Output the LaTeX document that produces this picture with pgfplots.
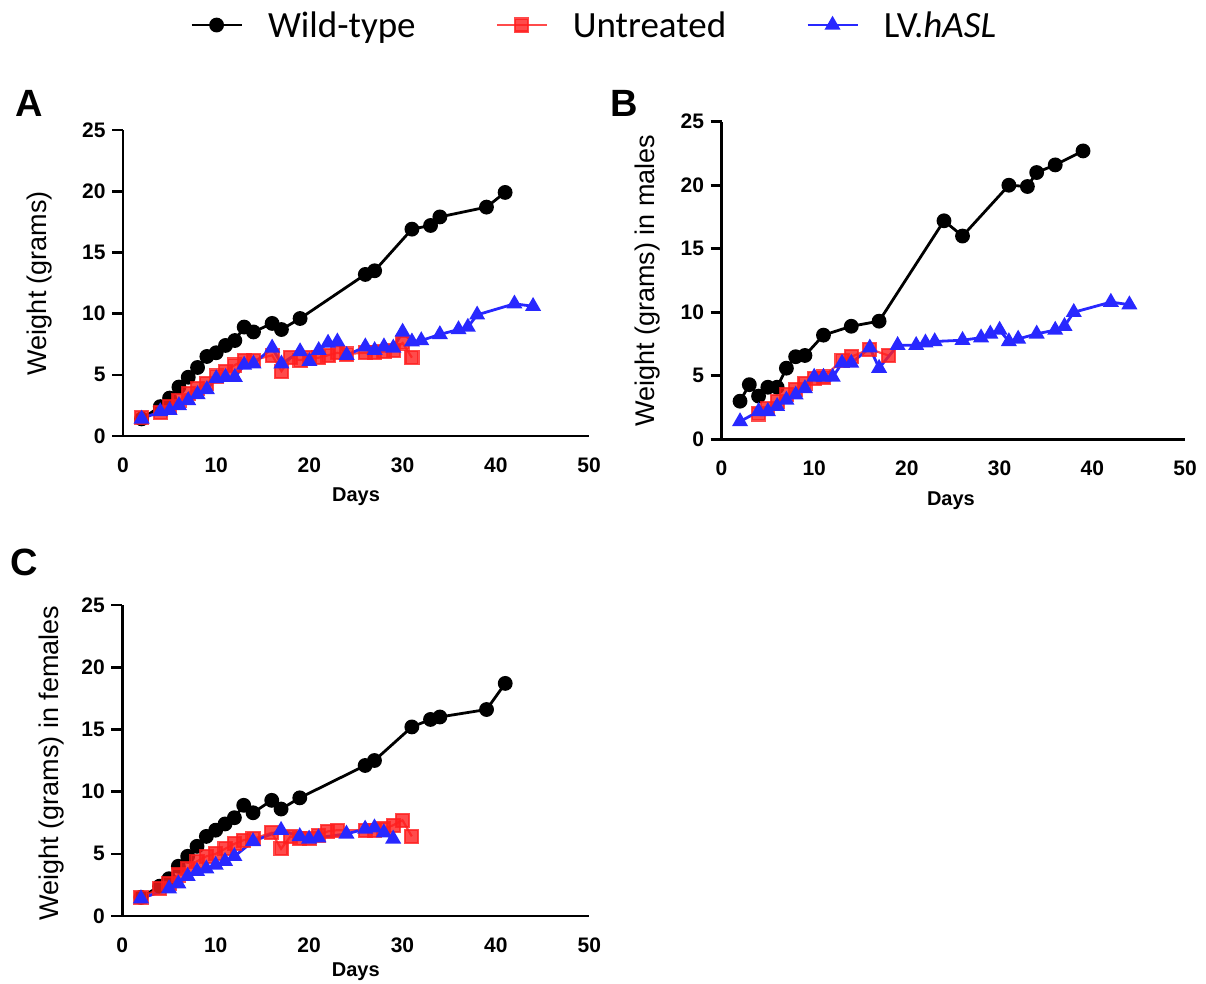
\documentclass[border=0pt]{standalone}
\usepackage{fontspec}
\setmainfont{Liberation Sans}
\newfontfamily\carlito{Carlito}
\usepackage{pgfplots}
\pgfplotsset{compat=1.18}
\definecolor{utc}{RGB}{255,30,30}
\definecolor{lvc}{RGB}{40,40,255}

\pgfplotsset{
 panel/.style={
  scale only axis, clip=false,
  anchor=south west,
  xmin=0,xmax=50,ymin=0,ymax=25,
  xtick={0,10,...,50}, ytick={0,5,...,25},
  axis x line*=bottom, axis y line*=left,
  axis line style={line width=2.6pt},
  xtick style={draw=none},
  ytick style={line width=2.6pt, black},
  major tick length=11pt, tick align=outside,
  /pgf/number format/assume math mode=true,
  tick label style={font=\fontsize{21}{24}\selectfont\bfseries},
  xticklabel style={yshift=-7pt},
  yticklabel style={xshift=-3pt},
  xlabel=Days,
  xlabel style={font=\fontsize{20}{24}\selectfont\bfseries, anchor=center},
  ylabel style={font=\fontsize{27}{30}\selectfont, anchor=center},
  legend image code/.code={\draw[mark repeat=2,mark phase=2,##1] plot coordinates {(0pt,0pt) (25pt,0pt) (50pt,0pt)};},
 },
 wt/.style={black, line width=2.8pt, mark=*, mark size=6pt, mark options={solid}},
 ut/.style={color=utc, line width=2.2pt, mark=square*, mark size=6.5pt, opacity=0.8, mark options={solid}},
 lv/.style={color=lvc, line width=2.8pt, mark=triangle*, mark size=6.5pt, mark options={solid}},
}

\begin{document}
\begin{tikzpicture}
\path[use as bounding box] (0,0) rectangle (1206pt,-983pt);

% Panel A
\begin{axis}[panel, at={(123pt,-436pt)}, width=466pt, height=306pt,
  ylabel={Weight (grams)},
  ylabel style={at={(axis description cs:-0.180,0.5)}},
  xlabel style={at={(axis description cs:0.5,-0.199)}},
  legend style={at={(axis description cs:0.1438,1.343)}, anchor=west, draw=none, fill=none, inner sep=0pt,
    font=\carlito\fontsize{37}{40}\selectfont, legend columns=3,
    /tikz/every odd column/.append style={column sep=25pt},
    /tikz/every even column/.append style={column sep=80pt},
    nodes={inner sep=0pt}, legend cell align=left},
]
\addplot[wt] coordinates {(2,1.4)(4,2.4)(5,3.1)(6,4.0)(7,4.8)(8,5.6)(9,6.5)(10,6.8)(11,7.4)(12,7.8)(13,8.9)(14,8.5)(16,9.2)(17,8.7)(19,9.6)(26,13.2)(27,13.5)(31,16.9)(33,17.2)(34,17.9)(39,18.7)(41,19.9)};
\addlegendentry{Wild-type}
\addplot[ut] coordinates {(2,1.5)(4,1.9)(5,2.4)(6,2.9)(7,3.5)(8,3.9)(9,4.3)(10,4.9)(11,5.3)(12,5.8)(13,6.2)(14,6.2)(16,6.6)(17,5.3)(18,6.4)(19,6.2)(20,6.4)(21,6.4)(22,6.6)(23,6.8)(24,6.7)(26,6.8)(27,6.8)(28,6.9)(29,7.0)(30,7.6)(31,6.4)};
\addlegendentry{Untreated}
\addplot[lv] coordinates {(2,1.4)(4,2.0)(5,2.1)(6,2.5)(7,2.9)(8,3.4)(9,3.8)(10,4.7)(11,4.8)(12,4.8)(13,5.8)(14,5.9)(16,7.2)(17,5.9)(19,6.9)(20,6.1)(21,7.0)(22,7.6)(23,7.7)(24,6.6)(26,7.3)(27,7.0)(28,7.3)(29,7.2)(30,8.5)(31,7.7)(32,7.8)(34,8.3)(36,8.7)(37,8.9)(38,9.9)(42,10.8)(44,10.6)};
\addlegendentry{LV.\textit{hASL}}
\end{axis}

% Panel B
\begin{axis}[panel, at={(721.5pt,-439.3pt)}, width=463.5pt, height=317.6pt,
  ylabel={Weight (grams) in males},
  ylabel style={at={(axis description cs:-0.1586,0.5)}},
  xlabel style={at={(axis description cs:0.495,-0.194)}},
]
\addplot[wt] coordinates {(2,3.0)(3,4.3)(4,3.4)(5,4.1)(6,4.1)(7,5.6)(8,6.5)(9,6.6)(11,8.2)(14,8.9)(17,9.3)(24,17.2)(26,16.0)(31,20.0)(33,19.9)(34,21.0)(36,21.6)(39,22.7)};
\addplot[ut] coordinates {(4,2.0)(5,2.4)(6,3.0)(7,3.5)(8,3.9)(9,4.4)(10,4.8)(11,4.9)(13,6.2)(14,6.5)(16,7.1)(18,6.6)};
\addplot[lv] coordinates {(2,1.4)(4,2.2)(5,2.2)(6,2.6)(7,3.1)(8,3.5)(9,4.0)(10,4.9)(11,4.9)(12,4.9)(13,6.0)(14,6.0)(16,7.2)(17,5.6)(19,7.4)(21,7.4)(22,7.6)(23,7.7)(26,7.8)(28,8.0)(29,8.3)(30,8.6)(31,7.7)(32,7.9)(34,8.3)(36,8.6)(37,8.9)(38,10.0)(42,10.8)(44,10.6)};
\end{axis}

% Panel C
\begin{axis}[panel, at={(122.3pt,-916pt)}, width=467pt, height=311pt,
  ylabel={Weight (grams) in females},
  ylabel style={at={(axis description cs:-0.1505,0.492)}},
  xlabel style={at={(axis description cs:0.5,-0.18)}},
]
\addplot[wt] coordinates {(2,1.5)(4,2.4)(5,3.0)(6,4.0)(7,4.8)(8,5.6)(9,6.4)(10,6.9)(11,7.4)(12,7.9)(13,8.9)(14,8.3)(16,9.3)(17,8.6)(19,9.5)(26,12.1)(27,12.5)(31,15.2)(33,15.8)(34,16.0)(39,16.6)(41,18.7)};
\addplot[ut] coordinates {(2,1.5)(4,2.2)(5,2.6)(6,3.3)(7,3.8)(8,4.4)(9,4.8)(10,5.0)(11,5.4)(12,5.8)(13,6.1)(14,6.2)(16,6.7)(17,5.4)(18,6.4)(19,6.2)(20,6.2)(21,6.5)(22,6.8)(23,6.9)(26,6.9)(27,6.9)(28,7.0)(29,7.3)(30,7.7)(31,6.4)};
\addplot[lv] coordinates {(2,1.4)(5,2.2)(6,2.6)(7,3.2)(8,3.6)(9,3.8)(10,4.1)(11,4.4)(12,4.8)(14,6.0)(17,6.9)(19,6.4)(20,6.2)(21,6.3)(24,6.6)(26,7.0)(27,7.1)(28,6.7)(29,6.2)};
\end{axis}

\node[font=\fontsize{38}{40}\selectfont\bfseries] at (29pt,-103pt) {A};
\node[font=\fontsize{38}{40}\selectfont\bfseries] at (624pt,-103pt) {B};
\node[font=\fontsize{38}{40}\selectfont\bfseries] at (24pt,-562pt) {C};
\end{tikzpicture}
\end{document}
